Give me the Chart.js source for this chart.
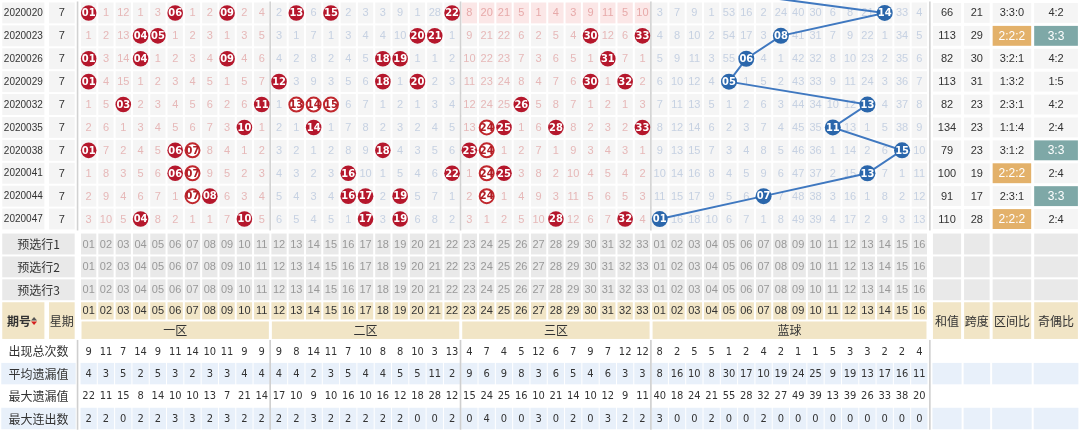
<!DOCTYPE html>
<html>
<head>
<meta charset="utf-8">
<script src="https://cdn.jsdelivr.net/npm/chart.js@4.4.1/dist/chart.umd.min.js"></script>
<style>
  html, body { margin: 0; padding: 0; background: #fff; }
  canvas { display: block; }
</style>
</head>
<body>
<canvas id="trend" width="1082" height="432"></canvas>
<script>
// ---- data ----
const periods = ['2020020', '2020023', '2020026', '2020029', '2020032', '2020035', '2020038', '2020041', '2020044', '2020047'];
const weekdays = [7, 7, 7, 7, 7, 7, 7, 7, 7, 7];

// red omission per period, 0 = drawn that period
const redMiss = [
  [0, 1, 12, 1, 3, 0, 1, 2, 0, 2, 4, 2, 0, 6, 0, 2, 3, 3, 9, 1, 28, 0, 8, 20, 21, 5, 1, 4, 3, 9, 11, 5, 10],
  [1, 2, 13, 0, 0, 1, 2, 3, 1, 3, 5, 3, 1, 7, 1, 3, 4, 4, 10, 0, 0, 1, 9, 21, 22, 6, 2, 5, 4, 0, 12, 6, 0],
  [0, 3, 14, 0, 1, 2, 3, 4, 0, 4, 6, 4, 2, 8, 2, 4, 5, 0, 0, 1, 1, 2, 10, 22, 23, 7, 3, 6, 5, 1, 0, 7, 1],
  [0, 4, 15, 1, 2, 3, 4, 5, 1, 5, 7, 0, 3, 9, 3, 5, 6, 0, 1, 0, 2, 3, 11, 23, 24, 8, 4, 7, 6, 0, 1, 0, 2],
  [1, 5, 0, 2, 3, 4, 5, 6, 2, 6, 0, 1, 0, 0, 0, 6, 7, 1, 2, 1, 3, 4, 12, 24, 25, 0, 5, 8, 7, 1, 2, 1, 3],
  [2, 6, 1, 3, 4, 5, 6, 7, 3, 0, 1, 2, 1, 0, 1, 7, 8, 2, 3, 2, 4, 5, 13, 0, 0, 1, 6, 0, 8, 2, 3, 2, 0],
  [0, 7, 2, 4, 5, 0, 0, 8, 4, 1, 2, 3, 2, 1, 2, 8, 9, 0, 4, 3, 5, 6, 0, 0, 1, 2, 7, 1, 9, 3, 4, 3, 1],
  [1, 8, 3, 5, 6, 0, 0, 9, 5, 2, 3, 4, 3, 2, 3, 0, 10, 1, 5, 4, 6, 0, 1, 0, 0, 3, 8, 2, 10, 4, 5, 4, 2],
  [2, 9, 4, 6, 7, 1, 0, 0, 6, 3, 4, 5, 4, 3, 4, 0, 0, 2, 0, 5, 7, 1, 2, 0, 1, 4, 9, 3, 11, 5, 6, 5, 3],
  [3, 10, 5, 0, 8, 2, 1, 1, 7, 0, 5, 6, 5, 4, 5, 1, 0, 3, 0, 6, 8, 2, 3, 1, 2, 5, 10, 0, 12, 6, 7, 0, 4]
];
// drawn reds shown as ringed balls
const redRing = [[], [], [], [], [13, 14, 15], [24], [7, 24], [7, 24], [7, 24], []];

const prevBlue = 4;
const blueMiss = [
  [3, 7, 9, 1, 53, 16, 2, 24, 40, 30, 6, 8, 21, 0, 33, 4],
  [4, 8, 10, 2, 54, 17, 3, 0, 41, 31, 7, 9, 22, 1, 34, 5],
  [5, 9, 11, 3, 55, 0, 4, 1, 42, 32, 8, 10, 23, 2, 35, 6],
  [6, 10, 12, 4, 0, 1, 5, 2, 43, 33, 9, 11, 24, 3, 36, 7],
  [7, 11, 13, 5, 1, 2, 6, 3, 44, 34, 10, 12, 0, 4, 37, 8],
  [8, 12, 14, 6, 2, 3, 7, 4, 45, 35, 0, 13, 1, 5, 38, 9],
  [9, 13, 15, 7, 3, 4, 8, 5, 46, 36, 1, 14, 2, 6, 0, 10],
  [10, 14, 16, 8, 4, 5, 9, 6, 47, 37, 2, 15, 0, 7, 1, 11],
  [11, 15, 17, 9, 5, 6, 0, 7, 48, 38, 3, 16, 1, 8, 2, 12],
  [0, 16, 18, 10, 6, 7, 1, 8, 49, 39, 4, 17, 2, 9, 3, 13]
];

const sums = [66, 113, 82, 113, 82, 134, 79, 100, 91, 110];
const spans = [21, 29, 30, 31, 23, 23, 23, 19, 17, 28];
const zoneRatio = ['3:3:0', '2:2:2', '3:2:1', '1:3:2', '2:3:1', '1:1:4', '3:1:2', '2:2:2', '2:3:1', '2:2:2'];
const oddEven = ['4:2', '3:3', '4:2', '1:5', '4:2', '2:4', '3:3', '2:4', '3:3', '2:4'];

const preLabels = ['预选行1', '预选行2', '预选行3'];
const zoneNames = ['一区', '二区', '三区', '蓝球'];
const rightHeads = ['和值', '跨度', '区间比', '奇偶比'];

const statLabels = ['出现总次数', '平均遗漏值', '最大遗漏值', '最大连出数'];
const statTotal = [9, 11, 7, 14, 9, 11, 14, 10, 11, 9, 9, 9, 8, 14, 11, 7, 10, 8, 8, 10, 3, 13, 4, 7, 4, 5, 12, 6, 7, 9, 7, 12, 12, 8, 2, 5, 5, 1, 2, 4, 2, 1, 1, 5, 3, 3, 2, 2, 4];
const statAvgMiss = [4, 3, 5, 2, 5, 3, 2, 3, 3, 4, 4, 4, 4, 2, 3, 5, 4, 4, 5, 5, 11, 2, 9, 6, 9, 8, 3, 6, 5, 4, 6, 3, 3, 8, 16, 10, 8, 30, 17, 10, 19, 24, 25, 9, 19, 13, 17, 16, 11];
const statMaxMiss = [22, 11, 15, 8, 14, 10, 10, 13, 7, 21, 14, 17, 10, 9, 10, 16, 10, 16, 12, 18, 28, 12, 15, 24, 25, 16, 10, 21, 14, 10, 12, 9, 11, 40, 18, 24, 21, 55, 28, 32, 27, 49, 39, 13, 39, 26, 33, 38, 20];
const statMaxRun = [2, 2, 0, 2, 2, 3, 3, 2, 3, 2, 2, 2, 2, 3, 2, 2, 2, 2, 2, 0, 0, 2, 0, 4, 0, 0, 3, 0, 2, 0, 3, 2, 2, 3, 0, 0, 2, 0, 0, 2, 0, 0, 0, 0, 0, 0, 0, 0, 0];
const statRows = [statTotal, statAvgMiss, statMaxMiss, statMaxRun];

// ---- layout (scale units: one number column = 1 on x, one draw row = 1 on y) ----
const X_MIN = -4.623, X_MAX = 57.9, Y_MIN = -0.065, Y_MAX = 18.8;
const COL_PERIOD = [-4.55, -2.0], COL_WEEK = [-1.85, -0.25], COL_LEFT = [-4.55, -0.25];
const RIGHT_COLS = [[49.2, 51.0], [51.0, 52.65], [52.65, 55.05], [55.05, 57.75]];
const SEPARATORS = [-0.13, 11, 22, 33, 49.12];
const PRE_TOP = 10.09, PRE_H = 1.0;
const HDR = [13.09, 13.93, 14.78];
const STAT_TOP = 14.78, STAT_H = 0.98;

const FONT = "'Liberation Sans', Arial, sans-serif";
const NARROW = "'Liberation Sans Narrow', 'DejaVu Sans Condensed', 'Liberation Sans', sans-serif";
const CJK = "'Noto Sans CJK SC', sans-serif";

const pad2 = n => String(n).padStart(2, '0');
const colName = i => pad2(i < 33 ? i + 1 : i - 32);
const missColor = i => (i < 33 && Math.floor(i / 11) !== 1) ? '#e6b8b8' : '#c6d1e2';

// ---- ball datasets ----
const redSolid = [], redSolidText = [], redRinged = [], redRingedText = [];
redMiss.forEach((row, r) => {
  row.forEach((v, i) => {
    if (v !== 0) return;
    const pt = { x: i + 0.5, y: r + 0.5 };
    if (redRing[r].includes(i + 1)) { redRinged.push(pt); redRingedText.push(pad2(i + 1)); }
    else { redSolid.push(pt); redSolidText.push(pad2(i + 1)); }
  });
});
const bluePts = [{ x: 33 + prevBlue - 0.5, y: -0.5 }];
const blueText = [''];
blueMiss.forEach((row, r) => {
  const b = row.indexOf(0);
  bluePts.push({ x: 33 + b + 0.5, y: r + 0.5 });
  blueText.push(pad2(b + 1));
});

const tablePlugin = {
  id: 'table',
  beforeDatasetsDraw(chart) {
    const ctx = chart.ctx;
    const X = v => chart.scales.x.getPixelForValue(v);
    const Y = v => chart.scales.y.getPixelForValue(v);
    const box = (x0, x1, y0, y1, fill, ix = 1, iy = 1) => {
      ctx.fillStyle = fill;
      ctx.fillRect(X(x0) + ix, Y(y0) + iy, X(x1) - X(x0) - 2 * ix, Y(y1) - Y(y0) - 2 * iy);
    };
    const txt = (s, x, y, color, font) => {
      ctx.fillStyle = color; ctx.font = font;
      ctx.textAlign = 'center'; ctx.textBaseline = 'middle';
      ctx.fillText(s, X(x), Y(y) + 0.5);
    };
    ctx.save();
    ctx.fillStyle = '#fff';
    ctx.fillRect(0, 0, chart.width, chart.height);

    // draw rows
    periods.forEach((p, r) => {
      const yc = r + 0.5;
      box(COL_PERIOD[0], COL_PERIOD[1], r, r + 1, '#f4f4f4');
      box(COL_WEEK[0], COL_WEEK[1], r, r + 1, '#f4f4f4');
      txt(p, (COL_PERIOD[0] + COL_PERIOD[1]) / 2, yc, '#333', '10px ' + FONT);
      txt(String(weekdays[r]), (COL_WEEK[0] + COL_WEEK[1]) / 2, yc, '#333', '11px ' + FONT);
      const cells = redMiss[r].concat(blueMiss[r]);
      cells.forEach((v, i) => {
        const pink = r === 0 && i >= 22 && i < 33;
        box(i, i + 1, r, r + 1, pink ? '#fbe7e7' : '#f5f5f5');
        if (v !== 0) txt(String(v), i + 0.5, yc, pink ? '#e7a9a9' : missColor(i), '11px ' + FONT);
      });
      const vals = [sums[r], spans[r], zoneRatio[r], oddEven[r]];
      RIGHT_COLS.forEach(([a, b], k) => {
        let fill = '#f5f5f5', color = '#333';
        if (k === 2 && vals[k] === '2:2:2') { fill = '#e3b16a'; color = '#fff'; }
        if (k === 3 && vals[k] === '3:3') { fill = '#7ea8a7'; color = '#fff'; }
        box(a, b, r, r + 1, fill, 1.5, 1.5);
        txt(String(vals[k]), (a + b) / 2, yc, color, (color === '#fff' ? '12px ' : '11px ') + FONT);
      });
    });
    ctx.fillStyle = '#d2d2d2';
    SEPARATORS.forEach(s => ctx.fillRect(X(s) - 1, Y(0), 1.6, Y(10) - Y(0)));

    // pre-select rows
    preLabels.forEach((lab, k) => {
      const y0 = PRE_TOP + k * PRE_H, y1 = y0 + PRE_H;
      box(COL_LEFT[0], COL_LEFT[1], y0, y1, '#e9e9e9');
      txt(lab, (COL_LEFT[0] + COL_LEFT[1]) / 2, (y0 + y1) / 2, '#333', '12px ' + CJK);
      for (let i = 0; i < 49; i++) {
        box(i, i + 1, y0, y1, '#e9e9e9');
        txt(colName(i), i + 0.5, (y0 + y1) / 2, '#999', '11px ' + FONT);
      }
      RIGHT_COLS.forEach(([a, b]) => box(a, b, y0, y1, '#e9e9e9', 1.5, 1));
    });

    // header rows
    const tan = '#f1e5c6';
    box(COL_PERIOD[0], COL_PERIOD[1], HDR[0], HDR[2], tan);
    box(COL_WEEK[0], COL_WEEK[1], HDR[0], HDR[2], tan);
    const hy = (HDR[0] + HDR[2]) / 2;
    txt('期号', (COL_PERIOD[0] + COL_PERIOD[1]) / 2 - 0.25, hy, '#333', 'bold 12px ' + CJK);
    const ax = X((COL_PERIOD[0] + COL_PERIOD[1]) / 2 + 0.62), ay = Y(hy);
    ctx.fillStyle = '#555';
    ctx.beginPath(); ctx.moveTo(ax - 3, ay); ctx.lineTo(ax + 3, ay); ctx.lineTo(ax, ay - 3.5); ctx.fill();
    ctx.fillStyle = '#d42020';
    ctx.beginPath(); ctx.moveTo(ax - 3, ay + 1); ctx.lineTo(ax + 3, ay + 1); ctx.lineTo(ax, ay + 4.5); ctx.fill();
    txt('星期', (COL_WEEK[0] + COL_WEEK[1]) / 2, hy, '#333', '12px ' + CJK);
    for (let i = 0; i < 49; i++) {
      box(i, i + 1, HDR[0], HDR[1], tan);
      txt(colName(i), i + 0.5, (HDR[0] + HDR[1]) / 2, '#333', '11px ' + FONT);
    }
    [[0, 11], [11, 22], [22, 33], [33, 49]].forEach(([a, b], k) => {
      box(a, b, HDR[1], HDR[2], tan, 1.5, 1);
      txt(zoneNames[k], (a + b) / 2, (HDR[1] + HDR[2]) / 2, '#333', '12px ' + CJK);
    });
    RIGHT_COLS.forEach(([a, b], k) => {
      box(a, b, HDR[0], HDR[2], tan, 1.5, 1);
      txt(rightHeads[k], (a + b) / 2, hy, '#333', '12px ' + CJK);
    });

    // stats rows
    statLabels.forEach((lab, k) => {
      const y0 = STAT_TOP + k * STAT_H, y1 = y0 + STAT_H, yc = (y0 + y1) / 2;
      const bg = k % 2 ? '#e8f0fa' : '#fff';
      box(COL_LEFT[0], COL_LEFT[1], y0, y1, bg, 0, 0.5);
      txt(lab, (COL_LEFT[0] + COL_LEFT[1]) / 2, yc, '#333', '12px ' + CJK);
      statRows[k].forEach((v, i) => {
        box(i, i + 1, y0, y1, bg, 0.5, 0.5);
        txt(String(v), i + 0.5, yc, '#333', '11px ' + NARROW);
      });
      RIGHT_COLS.forEach(([a, b]) => box(a, b, y0, y1, bg, 1, 0.5));
    });
    ctx.fillStyle = '#cfcfcf';
    SEPARATORS.forEach(s => ctx.fillRect(X(s) - 1, Y(STAT_TOP), 1.6, Y(STAT_TOP + 4 * STAT_H) - Y(STAT_TOP)));
    ctx.restore();
  },
  afterDatasetsDraw(chart) {
    const ctx = chart.ctx;
    ctx.save();
    ctx.textAlign = 'center'; ctx.textBaseline = 'middle';
    chart.data.datasets.forEach((ds, i) => {
      if (!ds.ballText) return;
      ctx.font = 'bold 11px ' + NARROW;
      ctx.fillStyle = ds.textColor;
      chart.getDatasetMeta(i).data.forEach((pt, j) => {
        if (ds.ballText[j]) ctx.fillText(ds.ballText[j], pt.x, pt.y + 0.5);
      });
    });
    ctx.restore();
  }
};

new Chart(document.getElementById('trend'), {
  type: 'scatter',
  data: {
    datasets: [
      {
        type: 'line', data: bluePts, ballText: blueText, textColor: '#fff',
        borderColor: '#3f78c0', borderWidth: 2, tension: 0,
        pointRadius: bluePts.map((p, j) => j === 0 ? 0 : 8),
        pointBackgroundColor: '#2a66ab', pointBorderColor: '#2a66ab', pointBorderWidth: 0,
        clip: false
      },
      {
        data: redSolid, ballText: redSolidText, textColor: '#fff',
        pointRadius: 7.8, pointBackgroundColor: '#b5172c', pointBorderColor: '#b5172c', pointBorderWidth: 0
      },
      {
        data: redRinged, ballText: redRingedText, textColor: '#b01d25',
        pointRadius: 7, pointBackgroundColor: '#fff', pointBorderColor: '#c0272d', pointBorderWidth: 2
      }
    ]
  },
  options: {
    responsive: false,
    animation: false,
    events: [],
    layout: { padding: 0, autoPadding: false },
    plugins: { legend: { display: false }, tooltip: { enabled: false } },
    scales: {
      x: { type: 'linear', min: X_MIN, max: X_MAX, display: false },
      y: { type: 'linear', min: Y_MIN, max: Y_MAX, reverse: true, display: false }
    }
  },
  plugins: [tablePlugin]
});
</script>
</body>
</html>
